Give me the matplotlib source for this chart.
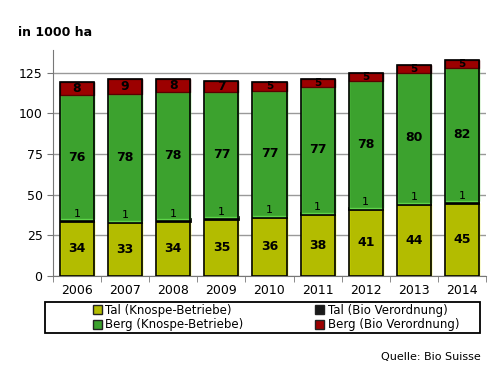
import numpy as np
import matplotlib.pyplot as plt

years = ['2006', '2007', '2008', '2009', '2010', '2011', '2012', '2013', '2014']
tal_knospe = [34, 33, 34, 35, 36, 38, 41, 44, 45]
tal_bio = [1, 1, 1, 1, 1, 1, 1, 1, 1]
berg_knospe = [76, 78, 78, 77, 77, 77, 78, 80, 82]
berg_bio = [8, 9, 8, 7, 5, 5, 5, 5, 5]

names = ['Tal (Knospe-Betriebe)', 'Tal (Bio Verordnung)',
         'Berg (Knospe-Betriebe)', 'Berg (Bio Verordnung)']
colors = ['#b3bc00', '#1a1a1a', '#3ca22e', '#9c0000']
edges = ['#e6ef00', '#000000', '#5fd44a', '#5a0000']
lws = [1, 2.0, 1, 1]
widths = [0.71, 0.675, 0.71, 0.71]

plt.rcParams['font.family'] = ['DejaVu Sans']
fig = plt.figure(figsize=(5, 3.75), dpi=100)
ax = fig.add_axes([0.106, 0.264, 0.866, 0.603])

x = np.arange(len(years))
series = [tal_knospe, tal_bio, berg_knospe, berg_bio]
bottom = np.zeros(len(years))
for vals, c, e, lw, w, n in zip(series, colors, edges, lws, widths, names):
    ax.bar(x, vals, w, bottom=bottom, color=c, edgecolor=e,
           linewidth=lw, label=n, zorder=3)
    bottom = bottom + np.array(vals)

# black outline around whole stack
ax.bar(x, bottom, 0.71, fill=False, edgecolor='black', linewidth=1.2, zorder=4)

# labels
b0 = np.zeros(len(years))
for i, vals in enumerate(series):
    for j, v in enumerate(vals):
        if i == 1:
            ax.text(x[j], b0[j] + v + 0.3, str(v), ha='center', va='bottom',
                    fontsize=8, zorder=5)
        elif i == 3:
            fs = 9 if v > 6 else 7.5
            ax.text(x[j], b0[j] + v / 2, str(v), ha='center', va='center',
                    fontsize=fs, fontweight='bold', zorder=5)
        else:
            ax.text(x[j], b0[j] + v / 2, str(v), ha='center', va='center',
                    fontsize=9, fontweight='bold', zorder=5)
    b0 = b0 + np.array(vals)

ax.set_xlim(-0.5, 8.5)
ax.set_ylim(0, 139)
ax.set_yticks([0, 25, 50, 75, 100, 125])
ax.set_xticks(x)
ax.set_xticklabels(years, fontsize=9)
ax.set_xticks(np.arange(-0.5, 9, 1), minor=True)
ax.tick_params(axis='x', which='major', length=0, pad=6)
ax.tick_params(axis='x', which='minor', length=4, color='#777777')
ax.tick_params(axis='y', labelsize=9, length=4, color='#777777')
ax.grid(axis='y', color='#999999', linewidth=1, zorder=0)
for s in ['top', 'right']:
    ax.spines[s].set_visible(False)
ax.spines['left'].set_color('#777777')
ax.spines['bottom'].set_color('#777777')

fig.text(0.036, 0.905, 'in 1000 ha', fontsize=9, fontweight='bold')
fig.text(0.962, 0.04, 'Quelle: Bio Suisse', fontsize=8, ha='right')

# legend frame
fig.patches.append(plt.Rectangle((0.09, 0.112), 0.87, 0.083, transform=fig.transFigure,
                                 fill=False, edgecolor='black', linewidth=1.3))
handles = [plt.Rectangle((0, 0), 1, 1, facecolor=c, edgecolor='#222222') for c in colors]
fig.legend([handles[0], handles[2], handles[1], handles[3]],
           [names[0], names[2], names[1], names[3]],
           ncol=2, loc='center left', bbox_to_anchor=(0.185, 0.1535),
           fontsize=8.5, frameon=False,
           handlelength=0.8, handleheight=0.8, handletextpad=0.3,
           borderpad=0, borderaxespad=0, labelspacing=0.15, columnspacing=6.0)

fig.savefig('out.png', dpi=100)
